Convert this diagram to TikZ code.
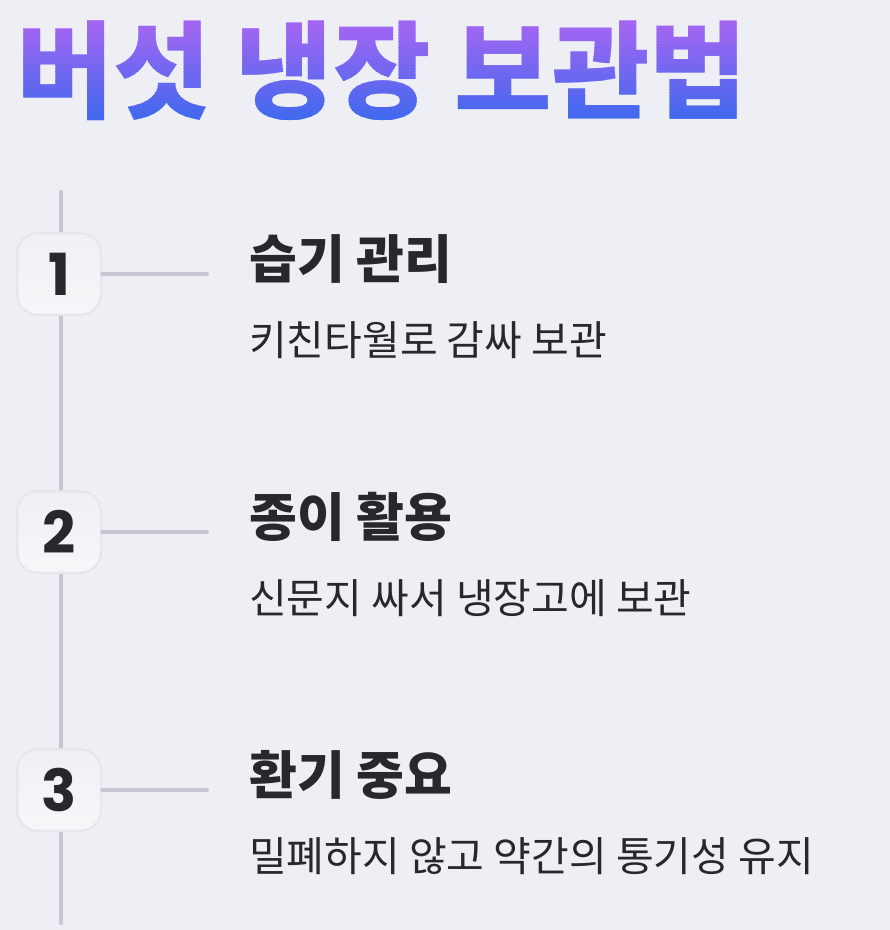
\documentclass[tikz,border=0pt]{standalone}
\usepackage{fontspec}
\newfontfamily\kr{Noto Sans CJK KR}
\newfontfamily\num{Poppins}
\definecolor{bg}{HTML}{EEEFF5}
\definecolor{linec}{HTML}{C6C6D2}
\definecolor{ink}{HTML}{28282C}
\definecolor{gtop}{HTML}{A266F2}
\definecolor{gbot}{HTML}{4169EE}
\definecolor{boxedge}{HTML}{E6E6EC}
\definecolor{boxtop}{HTML}{F0F0F4}
\definecolor{boxbot}{HTML}{F7F7FA}
\tikzset{
  titletxt/.style={anchor=west, inner sep=0pt, font=\kr\bfseries\fontsize{106}{116}\selectfont},
  numbox/.style={rounded corners=22pt, minimum width=86pt, minimum height=84pt, inner sep=0pt,
    fill=boxedge,
    path picture={\shade[top color=boxtop, bottom color=boxbot, rounded corners=19pt]
      ([shift={(2.5,2.5)}]path picture bounding box.north west) rectangle
      ([shift={(-2.5,-2.5)}]path picture bounding box.south east);},
    font=\num\bfseries\fontsize{58}{62}\selectfont, text=ink},
  headtxt/.style={anchor=west, inner sep=0pt, font=\kr\bfseries\fontsize{52}{58}\selectfont, text=ink},
  subtxt/.style={anchor=west, inner sep=0pt, font=\kr\fontsize{41}{46}\selectfont, text=ink},
  rail/.style={draw=linec, line width=4pt, line cap=round},
}
\begin{document}
\begin{tikzpicture}[x=1pt,y=-1pt]
\fill[bg] (0,0) rectangle (890,930);
\useasboundingbox (0,0) rectangle (890,930);
% title: vertical gradient built from thin clipped strips
\foreach \i in {0,...,41}{
  \pgfmathsetmacro{\ya}{5+3*\i}
  \pgfmathsetmacro{\yb}{\ya+3.3}
  \pgfmathsetmacro{\p}{max(0,min(100,((\ya+1.5)-25)/93*100))}
  \begin{scope}
    \clip (0,\ya) rectangle (890,\yb);
    \node[titletxt, text=gbot!\p!gtop] (t\i) at (16,71) {버섯 냉장 보관법};
  \end{scope}
}
% rail
\coordinate (top) at (61,192);
\coordinate (bot) at (61,923);
\draw[rail] (top) -- (bot);
% boxes
\foreach \n/\y in {1/274,2/532,3/790}{
  \node[numbox] (b\n) at (59,\y) {\n};
  \coordinate (e\n) at (207,\y);
  \draw[rail] (b\n.east) -- (e\n);
}
\node[headtxt] (h1) at (249,259) {습기 관리};
\node[subtxt] (s1) at (249,340) {키친타월로 감싸 보관};
\node[headtxt] (h2) at (249,517) {종이 활용};
\node[subtxt] (s2) at (249,598) {신문지 싸서 냉장고에 보관};
\node[headtxt] (h3) at (249,775) {환기 중요};
\node[subtxt] (s3) at (249,856) {밀폐하지 않고 약간의 통기성 유지};
\end{tikzpicture}
\end{document}
